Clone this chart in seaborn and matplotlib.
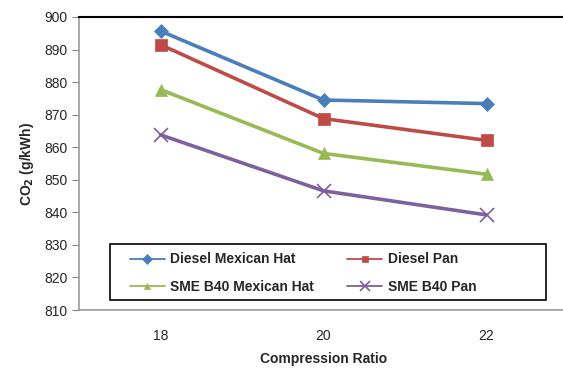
import matplotlib
matplotlib.use("Agg")
import matplotlib.pyplot as plt
from matplotlib.patches import Rectangle
import seaborn as sns
import pandas as pd
import copy

compression_ratio = [18, 20, 22]
diesel_mexican_hat = [895.7, 874.5, 873.4]
diesel_pan = [891.5, 868.8, 862.1]
sme_b40_mexican_hat = [877.7, 858.1, 851.7]
sme_b40_pan = [863.8, 846.6, 839.2]

series_names = ["Diesel Mexican Hat", "Diesel Pan", "SME B40 Mexican Hat", "SME B40 Pan"]
series_values = [diesel_mexican_hat, diesel_pan, sme_b40_mexican_hat, sme_b40_pan]

rows = []
for name, vals in zip(series_names, series_values):
    for x, v in zip(compression_ratio, vals):
        rows.append({"Compression Ratio": x, "CO2": v, "Series": name})
df = pd.DataFrame(rows)

colors = ["#4A7EBB", "#BE4B48", "#98B954", "#7D60A0"]
markers = ["D", "s", "^", "x"]
msizes = [7, 9, 9, 10]

sns.set_style("white")
plt.rcParams["font.family"] = ["Liberation Sans", "DejaVu Sans"]

fig = plt.figure(figsize=(5.63, 3.76), dpi=100)
ax = fig.add_axes([79/563, 1 - 310/376, 489/563, 293/376])

for name, c, m, ms in zip(series_names, colors, markers, msizes):
    sub = df[df["Series"] == name]
    sns.lineplot(data=sub, x="Compression Ratio", y="CO2", color=c, marker=m,
                 markersize=ms, linewidth=2.6, markeredgecolor=c,
                 markeredgewidth=1.2 if m == "x" else 0.5, label=name, ax=ax)

ax.set_xlim(17, 23)
ax.set_ylim(810, 900)
ax.set_yticks(range(810, 901, 10))
ax.set_xticks(compression_ratio)
ax.tick_params(axis="y", length=5, color="#888888", labelsize=10, pad=3, direction="out", left=True)
ax.tick_params(axis="x", length=0, labelsize=10, pad=14)

for s in ["left", "bottom"]:
    ax.spines[s].set_color("#999999")
    ax.spines[s].set_linewidth(1.2)
ax.spines["top"].set_color("black")
ax.spines["top"].set_linewidth(1.5)
ax.spines["right"].set_visible(False)

ax.set_xlabel("Compression Ratio", fontsize=10, fontweight="bold", labelpad=6)
ax.set_ylabel(r"CO$_\mathbf{2}$ (g/kWh)", fontsize=10, fontweight="bold", labelpad=6)

handles, labels = ax.get_legend_handles_labels()
new_handles = []
for h in handles:
    h2 = copy.copy(h)
    h2.set_linewidth(1.3)
    h2.set_markersize(5 if h.get_marker() != "x" else 7)
    new_handles.append(h2)
order = [0, 2, 1, 3]
leg = ax.legend([new_handles[i] for i in order], [labels[i] for i in order],
                ncol=2, loc="center left",
                bbox_to_anchor=(51/489, 37/293),
                frameon=False, handlelength=2.5, handletextpad=0.4,
                borderaxespad=0, borderpad=0, columnspacing=2.4, labelspacing=0.95,
                prop={"weight": "bold", "size": 10})
ax.add_patch(Rectangle((31/489, 10/293), 436/489, 56/293, transform=ax.transAxes,
                       fill=True, facecolor="white", edgecolor="black", linewidth=1.2,
                       zorder=4))
leg.set_zorder(5)

fig.savefig("out.png", dpi=100)
